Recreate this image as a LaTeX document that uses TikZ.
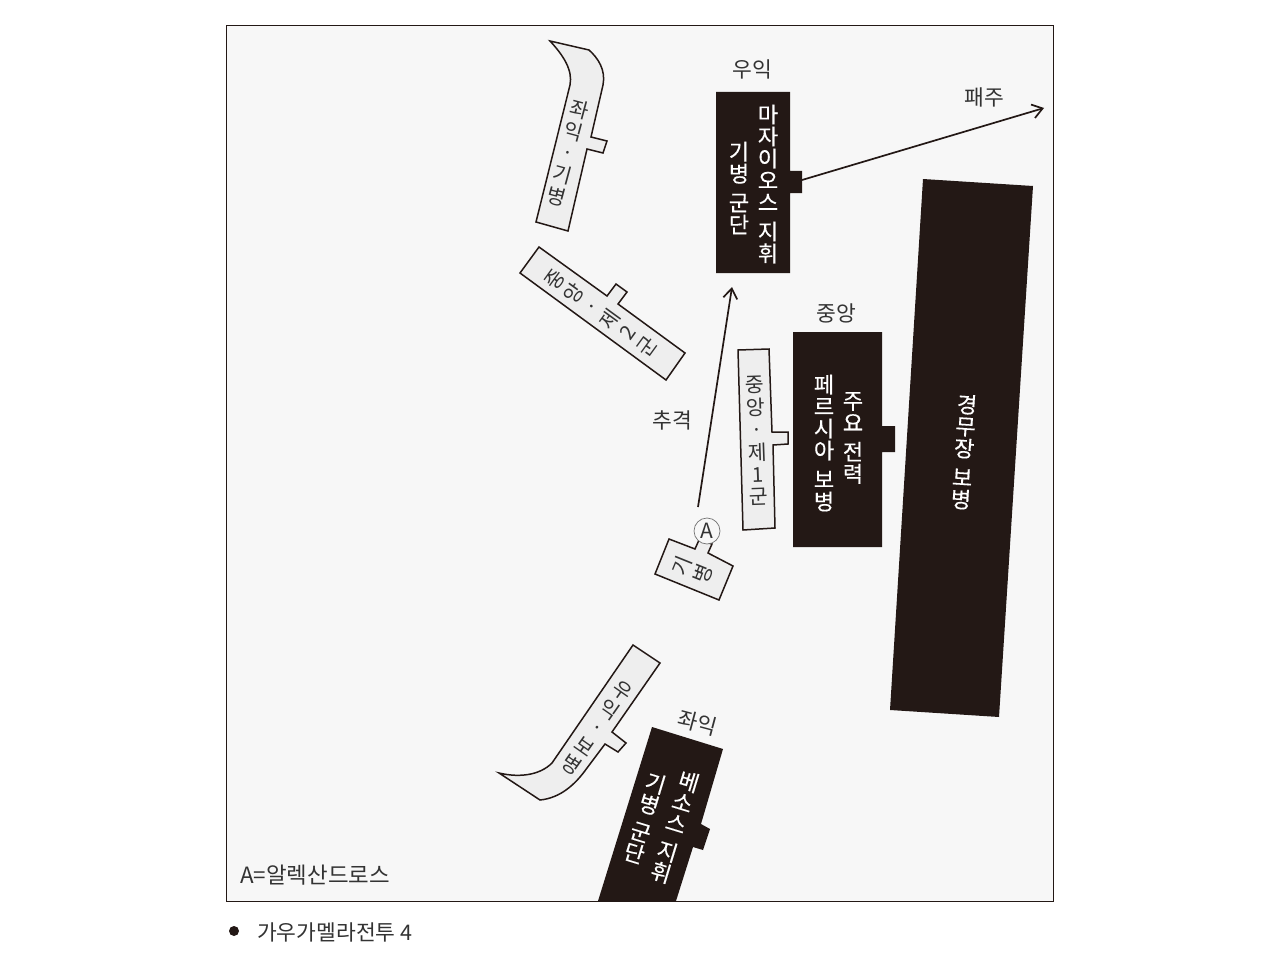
\documentclass[tikz,border=0pt]{standalone}
\usepackage{fontspec}
\setmainfont{Noto Sans CJK KR}
\newfontfamily\boldishfont[FakeBold=0.35]{Noto Sans CJK KR}
\usetikzlibrary{arrows.meta}
\definecolor{ink}{HTML}{231815}
\definecolor{panel}{HTML}{F7F7F7}
\definecolor{pale}{HTML}{EEEEEE}
\definecolor{labelc}{HTML}{333333}
\tikzset{
  dark/.style={fill=ink,draw=none},
  pale box/.style={fill=pale,draw=ink,line width=1.5pt,line join=miter},
  whitetxt/.style={text=white,inner sep=0pt,align=center,font=\boldishfont\fontsize{22}{22}\selectfont},
  inktxt/.style={text=labelc,inner sep=0pt,align=center,font=\fontsize{20.5}{22.5}\selectfont},
  caption/.style={text=labelc,inner sep=0pt,font=\fontsize{21.5}{23}\selectfont},
  flow/.style={draw=ink,line width=1.7pt,-{Straight Barb[length=10pt,width=14pt,line width=1.7pt]}},
}
\newcommand{\gp}{\\[7pt]}
\begin{document}
\begin{tikzpicture}[x=1pt,y=-1pt]
\useasboundingbox (0,0) rectangle (1280,971);
\fill[white] (0,0) rectangle (1280,971);
\draw[fill=panel,draw=ink,line width=1pt] (226,26) rectangle (1053,901);

% enemy (black) blocks
\fill[dark] (716,92) -- (790,92) -- (790,171) -- (802,171) -- (802,193) -- (790,193) -- (790,273) -- (716,273) -- cycle;
\fill[dark] (793,332) -- (882,332) -- (882,426) -- (895,426) -- (895,452) -- (882,452) -- (882,547) -- (793,547) -- cycle;
\fill[dark] (923,179) -- (1033,186) -- (999,717) -- (890,710) -- cycle;
\fill[dark] (652,727) -- (723,749) -- (701,824) -- (710,829) -- (703,850) -- (693,847) -- (676,901) -- (598,901) -- cycle;

% macedonian (pale) blocks
\draw[pale box] (550,41) -- (589,50) .. controls (598,58) and (606,70) .. (603,85) -- (591,137) -- (607,141) -- (603,153) -- (587,149) -- (568,231) -- (536,222) -- (570,85) .. controls (573,70) and (563,55) .. (550,41) -- cycle;
\draw[pale box] (539,247) -- (607,296) -- (616,284) -- (627,292) -- (618,304) -- (685,353) -- (666,380) -- (520,273) -- cycle;
\draw[pale box] (738,350) -- (769,349) -- (772,432) -- (788,432) -- (788,444) -- (773,445) -- (775,528) -- (743,530) -- cycle;
\draw[pale box] (669,539) -- (695,549) -- (699,540) -- (712,544) -- (708,553) -- (733,566) -- (719,600) -- (655,574) -- cycle;
\draw[pale box] (633,645) -- (660,663) -- (612,732) -- (626,743) -- (618,752) -- (605,744) -- (587,768) .. controls (575,785) and (560,798) .. (540,800) -- (499,773) .. controls (520,778) and (540,775) .. (552,763) -- cycle;

% Alexander
\node[circle,draw=black!55,fill=panel,line width=0.7pt,minimum size=26pt,inner sep=0pt,text=labelc,font=\fontsize{21}{22}\selectfont] (alex) at (707,531) {A};

% texts on black blocks
\node[whitetxt] (rw1) at (768,184) {마\\자\\이\\오\\스\gp 지\\휘};
\node[whitetxt] (rw2) at (739,188) {기\\병\gp 군\\단};
\node[whitetxt] (c1) at (853,438) {주\\요\gp 전\\력};
\node[whitetxt] (c2) at (824,443) {페\\르\\시\\아\gp 보\\병};
\node[whitetxt,rotate=-3.7] (lt) at (964,452) {경\\무\\장\gp 보\\병};
\node[whitetxt,rotate=-17] (lw1) at (675,827) {베\\소\\스\gp 지\\휘};
\node[whitetxt,rotate=-17] (lw2) at (645,818) {기\\병\gp 군\\단};

% texts on pale blocks
\node[inktxt,rotate=-15] (m1) at (568,153) {좌\\익\\·\\기\\병};
\node[inktxt,rotate=54] (m2) at (601,313) {중\\앙\\·\\제\\2\\군};
\node[inktxt,rotate=2] (m3) at (757,441) {중\\앙\\·\\제\\1\\군};
\node[inktxt,rotate=68] (m4) at (692,570) {기\\병};
\node[inktxt,rotate=-35] (m5) at (597,728) {우\\익\\·\\보\\병};

% captions
\node[caption] (t1) at (752,69) {우익};
\node[caption] (t2) at (984,97) {패주};
\node[caption] (t3) at (836,313) {중앙};
\node[caption] (t4) at (672,420) {추격};
\node[caption,rotate=-15] (t5) at (698,723) {좌익};
\node[caption,anchor=west,font=\fontsize{22.4}{24}\selectfont] (t6) at (240,875) {A=알렉산드로스};
\node[circle,fill=ink,minimum size=10pt,inner sep=0pt] (bullet) at (234,931) {};
\node[caption,anchor=west] (t7) at (257,932) {가우가멜라전투 4};

% movement arrows
\coordinate (rtab) at (802,180);
\coordinate (routend) at (1044,108);
\coordinate (pstart) at (698,507);
\coordinate (pend) at (732,287);
\draw[flow] (rtab) -- (routend);
\draw[flow] (pstart) -- (pend);
\end{tikzpicture}
\end{document}
